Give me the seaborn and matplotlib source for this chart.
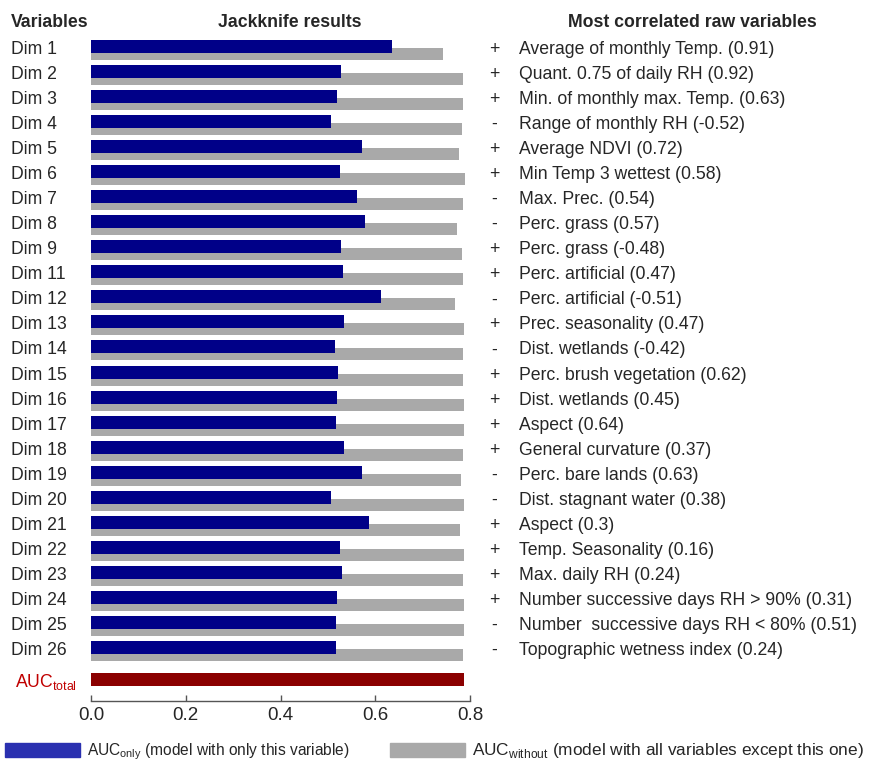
import numpy as np
import pandas as pd
import seaborn as sns
import matplotlib.pyplot as plt
import matplotlib.transforms as mtransforms
from matplotlib.patches import Patch

# datos
dims = ["Dim 1", "Dim 2", "Dim 3", "Dim 4", "Dim 5", "Dim 6", "Dim 7", "Dim 8", "Dim 9",
        "Dim 11", "Dim 12", "Dim 13", "Dim 14", "Dim 15", "Dim 16", "Dim 17", "Dim 18",
        "Dim 19", "Dim 20", "Dim 21", "Dim 22", "Dim 23", "Dim 24", "Dim 25", "Dim 26"]
auc_only = [0.635, 0.527, 0.519, 0.507, 0.571, 0.526, 0.561, 0.578, 0.527,
            0.532, 0.612, 0.535, 0.514, 0.522, 0.520, 0.517, 0.535,
            0.571, 0.506, 0.586, 0.526, 0.529, 0.520, 0.517, 0.517]
auc_without = [0.742, 0.786, 0.786, 0.784, 0.777, 0.789, 0.786, 0.773, 0.784,
               0.786, 0.769, 0.787, 0.786, 0.786, 0.787, 0.787, 0.786,
               0.782, 0.787, 0.779, 0.787, 0.786, 0.787, 0.787, 0.786]
auc_total = 0.787
signos = ["+", "+", "+", "-", "+", "+", "-", "-", "+", "+", "-", "+", "-",
          "+", "+", "+", "+", "-", "-", "+", "+", "+", "+", "-", "-"]
raw_vars = ["Average of monthly Temp. (0.91)", "Quant. 0.75 of daily RH (0.92)",
            "Min. of monthly max. Temp. (0.63)", "Range of monthly RH (-0.52)",
            "Average NDVI (0.72)", "Min Temp 3 wettest (0.58)", "Max. Prec. (0.54)",
            "Perc. grass (0.57)", "Perc. grass (-0.48)", "Perc. artificial (0.47)",
            "Perc. artificial (-0.51)", "Prec. seasonality (0.47)", "Dist. wetlands (-0.42)",
            "Perc. brush vegetation (0.62)", "Dist. wetlands (0.45)", "Aspect (0.64)",
            "General curvature (0.37)", "Perc. bare lands (0.63)", "Dist. stagnant water (0.38)",
            "Aspect (0.3)", "Temp. Seasonality (0.16)", "Max. daily RH (0.24)",
            "Number successive days RH > 90% (0.31)", "Number  successive days RH < 80% (0.51)",
            "Topographic wetness index (0.24)"]

azul = "#000088"
gris = "#a9a9a9"
rojo = "#8b0000"
fs = 12.7

sns.set_theme(style="white")
plt.rcParams["font.family"] = ["Liberation Sans", "DejaVu Sans"]

# posiciones de las filas (una unidad por variable)
pos = np.arange(len(dims), dtype=float)
pos_total = len(dims) + 0.28
df = pd.DataFrame({"dim": dims, "only": auc_only, "without": auc_without,
                   "pos": pos})

W, H = 871, 762
fig = plt.figure(figsize=(W / 100, H / 100), dpi=100)
ax = fig.add_axes([91 / W, 1 - 701 / H, 379 / W, (701 - 30) / H])

# barras grises detras, azules delante
sns.barplot(data=df.assign(p=df["pos"] + 0.30), x="without", y="p", orient="y",
            native_scale=True, color=gris, saturation=1, width=0.48,
            errorbar=None, linewidth=0, ax=ax)
sns.barplot(data=df, x="only", y="pos", orient="y", native_scale=True,
            color=azul, saturation=1, width=0.52, errorbar=None, linewidth=0, ax=ax)
sns.barplot(x=[auc_total], y=[pos_total], orient="y", native_scale=True,
            color=rojo, saturation=1, width=0.52, errorbar=None, linewidth=0, ax=ax)

ax.set_xlim(0, 0.8)
ax.set_ylim(26.14, -0.66)
ax.set_xticks([0, 0.2, 0.4, 0.6, 0.8])
ax.set_xticklabels(["0.0", "0.2", "0.4", "0.6", "0.8"])
ax.set_yticks([])
ax.set_xlabel("")
ax.set_ylabel("")
for s in ["top", "right", "left"]:
    ax.spines[s].set_visible(False)
ax.spines["bottom"].set_color("#555555")
ax.spines["bottom"].set_linewidth(1)
ax.tick_params(axis="x", direction="in", length=4, width=1, color="#555555",
               labelsize=13.5, pad=4, bottom=True)

# textos de las filas
tr = mtransforms.blended_transform_factory(fig.transFigure, ax.transData)
for i in range(len(dims)):
    yb = pos[i] + 0.30
    ax.text(11 / W, yb, dims[i], transform=tr, fontsize=fs, va="baseline")
    ax.text(494 / W, yb, signos[i], transform=tr, fontsize=fs, va="baseline", ha="center")
    ax.text(519 / W, yb, raw_vars[i], transform=tr, fontsize=fs, va="baseline")
ax.text(15 / W, pos_total + 0.30, r"AUC$_\mathregular{total}$", transform=tr,
        fontsize=fs, va="baseline", color="#c00000")

# titulos
fig.text(11 / W, 1 - 27 / H, "Variables", fontsize=fs, weight="bold", va="baseline")
fig.text(290 / W, 1 - 27 / H, "Jackknife results", fontsize=fs, weight="bold",
         va="baseline", ha="center")
fig.text(692 / W, 1 - 27 / H, "Most correlated raw variables", fontsize=fs,
         weight="bold", va="baseline", ha="center")

# leyenda
handles = [Patch(color="#2a30b0"), Patch(color=gris)]
labels = [r"AUC$_\mathregular{only}$ (model with only this variable)",
          r"AUC$_\mathregular{without}$ (model with all variables except this one)"]
leg = fig.legend(handles, labels, loc="lower left", bbox_to_anchor=(5 / W, 0),
                 ncol=2, frameon=False, fontsize=11.2, borderpad=0, borderaxespad=0,
                 handlelength=4.8, handleheight=1.0, handletextpad=0.45,
                 columnspacing=2.6)
leg.get_texts()[1].set_fontsize(12.4)

fig.savefig("out.png", dpi=100)
